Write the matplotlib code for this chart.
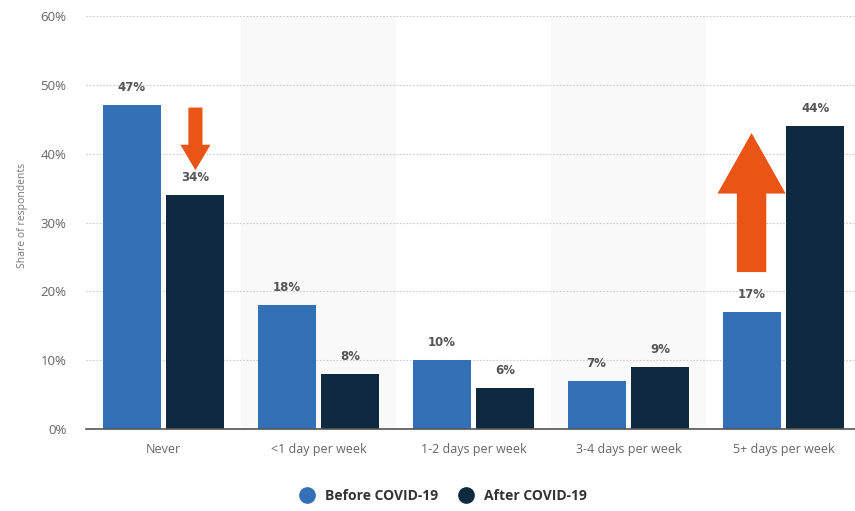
import matplotlib
matplotlib.use("Agg")
import matplotlib.pyplot as plt
from matplotlib.patches import FancyArrow
from matplotlib.lines import Line2D
import numpy as np

categories = ["Never", "<1 day per week", "1-2 days per week", "3-4 days per week", "5+ days per week"]
before = [47, 18, 10, 7, 17]
after = [34, 8, 6, 9, 44]
series_names = ["Before COVID-19", "After COVID-19"]
yticks = [0, 10, 20, 30, 40, 50, 60]

c_before = "#3370b6"
c_after = "#0f2a40"
c_arrow = "#ea5516"

plt.rcParams['font.family'] = ['Open Sans', 'DejaVu Sans']

fig = plt.figure(figsize=(8.55, 5.11), dpi=100)
ax = fig.add_axes([86/855, 82/511, 775/855, (429-16)/511])

x = np.arange(len(categories))
w = 0.374
off = 0.206
# alternating background
for i in range(len(categories)):
    if i % 2 == 1:
        ax.axvspan(i - 0.5, i + 0.5, color="#f9f9f9", zorder=0, lw=0)

b1 = ax.bar(x - off, before, w, color=c_before, zorder=3)
b2 = ax.bar(x + off, after, w, color=c_after, zorder=3)

for xs, vals in [(x - off, before), (x + off, after)]:
    for xi, v in zip(xs, vals):
        ax.annotate(f"{v}%", (xi, v), xytext=(0, 8), textcoords="offset points",
                    ha="center", va="bottom", fontsize=8.5, fontweight="bold",
                    color="#555555", family=["DejaVu Sans"], zorder=5)

ax.set_xlim(-0.5, len(categories) - 0.5)
ax.set_ylim(0, 60)
ax.set_yticks(yticks)
ax.set_yticklabels([f"{t}%" for t in yticks])
ax.set_xticks(x)
ax.set_xticklabels(categories)
ax.tick_params(axis="both", length=0, colors="#666666", labelsize=9.5)
ax.tick_params(axis="x", pad=10, labelsize=9)
ax.tick_params(axis="y", pad=14)
ax.grid(axis="y", color="#cccccc", linestyle=(0, (1.5, 1.5)), lw=0.8, zorder=1)
for s in ["top", "right", "left"]:
    ax.spines[s].set_visible(False)
ax.spines["bottom"].set_color("#555555")
ax.spines["bottom"].set_linewidth(1.2)
ax.spines["bottom"].set_zorder(4)
ax.set_facecolor("none")

fig.text(22/855, 1 - 215/511, "Share of respondents", rotation=90, ha="center", va="center",
         fontsize=7.5, color="#777777")

# arrows
ax.add_patch(FancyArrow(0 + off, 46.7, 0, -9.1, width=0.091, head_width=0.195,
                        head_length=3.7, length_includes_head=True, color=c_arrow, lw=0, zorder=6))
ax.add_patch(FancyArrow(4 - off, 22.8, 0, 20.2, width=0.19, head_width=0.44,
                        head_length=8.8, length_includes_head=True, color=c_arrow, lw=0, zorder=6))

handles = [Line2D([], [], marker="o", ls="", markersize=11, color=c_before),
           Line2D([], [], marker="o", ls="", markersize=11, color=c_after)]
leg = fig.legend(handles, series_names, loc="center", bbox_to_anchor=(0.515, 1 - 496/511),
                 ncol=2, frameon=False, handletextpad=0.3, columnspacing=1.0,
                 prop={"weight": "bold", "size": 10})
for t in leg.get_texts():
    t.set_color("#333333")

fig.savefig("out.png", dpi=100)
